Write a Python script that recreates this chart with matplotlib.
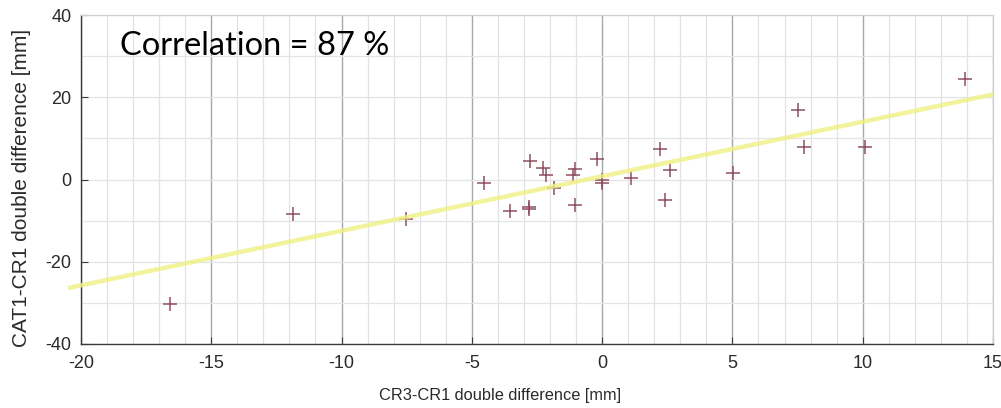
import matplotlib
matplotlib.use("Agg")
import matplotlib.pyplot as plt
from matplotlib.ticker import MultipleLocator
import numpy as np

plt.rcParams['axes.unicode_minus'] = False

# Data
cr3_cr1 = [13.93, 7.53, 7.76, 10.09, 5.04, 2.24, 2.60, 2.43, 1.11, 0.0, 0.0,
           -0.20, -1.06, -1.10, -1.06, -1.84, -2.28, -2.16, -2.79, -2.79, -2.75,
           -3.53, -4.53, -7.52, -11.87, -16.6]
cat1_cr1 = [24.4, 17.0, 7.9, 7.9, 1.6, 7.5, 2.2, -4.9, 0.3, -0.2, -0.9,
            4.9, 2.6, 1.1, -6.1, -2.0, 2.8, 1.1, -6.6, -7.1, 4.5,
            -7.7, -0.8, -9.6, -8.3, -30.2]
fit_x = [-20.5, 15.0]
fit_y = [-26.4, 20.7]

x_ticks = [-20, -15, -10, -5, 0, 5, 10, 15]
y_ticks = [-40, -20, 0, 20, 40]
x_label = "CR3-CR1 double difference [mm]"
y_label = "CAT1-CR1 double difference [mm]"
annotation = "Correlation = 87 %"

fig = plt.figure(figsize=(10.01, 4.08), dpi=100)
ax = fig.add_axes([0.0809, 0.157, 0.9111, 0.806])

ax.set_xlim(-20, 15)
ax.set_ylim(-40, 40)
ax.set_xticks(x_ticks)
ax.set_yticks(y_ticks)
ax.xaxis.set_minor_locator(MultipleLocator(1))
ax.yaxis.set_minor_locator(MultipleLocator(10))

ax.grid(True, which='major', axis='x', color='#a8a8a8', linewidth=1.0)
ax.grid(True, which='minor', axis='x', color='#e2e2e2', linewidth=0.9)
ax.grid(True, which='both', axis='y', color='#e4e4e4', linewidth=0.9)
ax.set_axisbelow(True)

ax.plot(cr3_cr1, cat1_cr1, linestyle='none', marker='+', markersize=10,
        markeredgewidth=1.1, color='#8e5060', zorder=3)
ax.plot(fit_x, fit_y, color='#f0f085', linewidth=3.2, alpha=0.8,
        solid_capstyle='butt', clip_on=False, zorder=4)

for s in ['left', 'bottom']:
    ax.spines[s].set_color('#3a3a3a')
    ax.spines[s].set_linewidth(1.0)
for s in ['top', 'right']:
    ax.spines[s].set_color('#d0d0d0')
    ax.spines[s].set_linewidth(0.9)

ax.tick_params(axis='both', which='major', direction='in', length=5,
               color='#3a3a3a', labelcolor='#2a2a2a', labelsize=13)
ax.tick_params(axis='both', which='minor', length=0)
ax.tick_params(axis='x', which='major', pad=8)
ax.tick_params(axis='y', which='major', pad=7)
for lab in ax.get_xticklabels() + ax.get_yticklabels():
    lab.set_family('Liberation Sans')

fig.text(0.5, 0.012, x_label, fontsize=11.8, family='Liberation Sans',
         color='#2a2a2a', ha='center', va='bottom')
fig.text(0.0215, 0.54, y_label, fontsize=15, family='Liberation Sans',
         color='#2a2a2a', ha='center', va='center', rotation=90)

ax.text(-18.5, 30.2, annotation, fontsize=23.5, family='Lato', color='black',
        ha='left', va='baseline', zorder=5)

fig.savefig('out.png', dpi=100)
